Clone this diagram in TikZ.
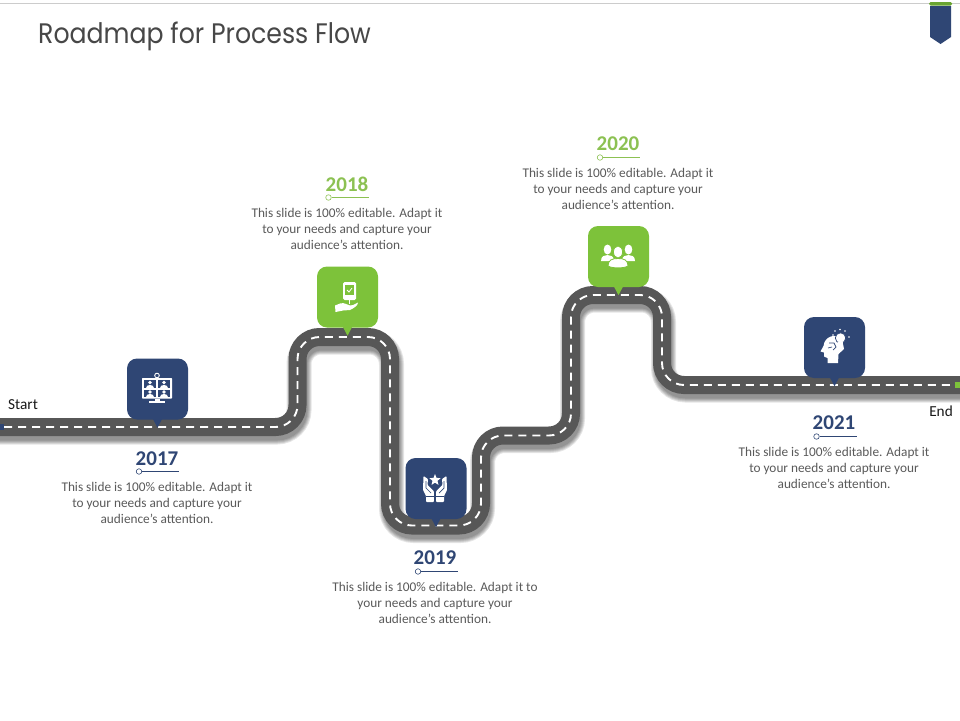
\documentclass[tikz,border=0pt]{standalone}
\usepackage{fontspec}
\setmainfont{Carlito}
\newfontfamily\titlefont{Poppins}
\definecolor{navy}{HTML}{2F4674}
\definecolor{leaf}{HTML}{7DC23A}
\definecolor{yrgreen}{HTML}{8CC152}
\definecolor{asphalt}{HTML}{575757}
\definecolor{bodytxt}{HTML}{5A5A5A}
\tikzset{
  x=1pt,y=-1pt,
  marker/.style={fill=#1,rounded corners=10pt,minimum width=61pt,minimum height=61pt,inner sep=0pt,draw=none},
  blurb/.style={align=center,text=bodytxt,font=\fontsize{13.3}{16}\selectfont,inner sep=0pt},
  yearlabel/.style={text=#1,font=\fontsize{21}{24}\selectfont\bfseries,inner sep=0pt},
  ruleline/.style={draw=#1,line width=0.9pt},
  ringdot/.style={draw=#1,fill=white,circle,minimum size=5.5pt,inner sep=0pt,line width=0.6pt},
  sidelabel/.style={text=black!90,font=\fontsize{15.3}{17}\selectfont,inner sep=0pt},
}
\newcommand{\roadline}{(-10,427) -- (297.5,427) -- (297.5,337) -- (390,337) -- (390,525.5) -- (481,525.5) -- (481,435.5) -- (571,435.5) -- (571,295) -- (662,295) -- (662,385) -- (970,385)}
\newcommand{\pin}[3]{\fill[#1] (#2.south)++(-5,-1.5) -- ++(5,#3) -- ++(5,-#3) -- cycle;}
\begin{document}
\begin{tikzpicture}
\path[use as bounding box,clip] (0,0) rectangle (960,720);
\fill[white] (0,0) rectangle (960,720);
% header
\coordinate (hl) at (0,3); \coordinate (hr) at (960,3);
\draw[black!20,line width=1pt] (hl) -- (hr);
\fill[navy] (930,6) -- (951,6) -- (951,37) -- (940.5,44) -- (930,37) -- cycle;
\fill[leaf!85!black,rounded corners=1.5pt] (929,2) rectangle (952,5.5);
\node[anchor=base west,text=black!72,font=\titlefont\fontsize{25.2}{30}\selectfont,inner sep=0pt] (title) at (38,43.5) {\scalebox{1}[1.12]{Roadmap for Process Flow}};
% road shadow
\begin{scope}[shift={(1.5,5)},rounded corners=22pt]
\foreach \w in {25,23,21,19,17} {\draw[black,opacity=0.1,line width=\w pt] \roadline;}
\end{scope}
% road
\draw[asphalt,line width=18pt,rounded corners=22pt] \roadline;
\draw[white,line width=1.9pt,rounded corners=22pt,dash pattern=on 8pt off 6pt] \roadline;
\fill[navy] (0,424) rectangle (4,430);
\fill[leaf] (955,382) rectangle (960,388);
% markers
\node[marker=navy] (m17) at (157.5,389) {}; \pin{navy}{m17}{9.5}
\node[marker=leaf] (m18) at (347.5,297) {}; \pin{leaf}{m18}{9.5}
\node[marker=navy] (m19) at (436,488.5) {}; \pin{navy}{m19}{9.5}
\node[marker=leaf] (m20) at (618.5,256.5) {}; \pin{leaf}{m20}{9.5}
\node[marker=navy] (m21) at (834.5,347.5) {}; \pin{navy}{m21}{9.5}
% icon 2017: monitor with four people
\draw[white,line width=0.9pt] (157,375.5) circle (2.3);
\fill[white,rounded corners=0.6pt] (142,378) rectangle (172,398.5);
\foreach \a/\b in {144/156,158/170} \foreach \c/\d in {380/388,389.5/397} {
  \fill[navy] (\a,\c) rectangle (\b,\d);
  \fill[white] ({(\a+\b)/2},{\c+2.5}) circle (1.9);
  \fill[white] ({(\a+\b)/2-4},\d) .. controls ({(\a+\b)/2-4},{\c+3.8}) and ({(\a+\b)/2+4},{\c+3.8}) .. ({(\a+\b)/2+4},\d) -- cycle;
}
\fill[white] (154.5,398.5) rectangle (159.5,401);
\fill[white] (149,401) rectangle (165,403);
% icon 2018: phone over hand
\fill[white,rounded corners=1.5pt] (343,282) rectangle (356,300);
\fill[leaf] (345,285) rectangle (354,295);
\draw[white,line width=0.8pt] (347,290) -- (349,292) -- (352,288);
\draw[white,line width=0.8pt] (349.5,300) -- (349.5,304);
\fill[white] (335,305.5) -- (340,303.5) .. controls (345,302) and (346,305) .. (350,305.5) -- (353,305) -- (358,302.5) .. controls (358,305.5) and (354,308) .. (350,310) -- (343,310.5) -- (335.5,312) -- cycle;
% icon 2019: hands with star
\fill[white] (435,474) -- (436.5,477.9) -- (440.7,478.1) -- (437.5,480.8) -- (438.5,484.9) -- (435,482.6) -- (431.5,484.9) -- (432.5,480.8) -- (429.3,478.1) -- (433.5,477.9) -- cycle;
\foreach \s/\o in {1/0,-1/870} {
\begin{scope}[shift={(\o,0)},xscale=\s]
\fill[white,rounded corners=0.8pt] (423.5,476) -- (428,479) -- (427.5,485) -- (433.8,491) -- (433.8,502) -- (426,502) -- (426,496) -- (423,490) -- cycle;
\draw[navy,line width=0.7pt] (426,496.5) -- (434,496.5);
\draw[navy,line width=0.7pt] (426,481) -- (426,488) -- (431,493);
\end{scope}}
% icon 2020: three people
\foreach \h in {607.5,628.5} {
  \fill[white] (\h,249.5) ellipse (3.8 and 5);
  \fill[white] ({\h-6.5},261) .. controls ({\h-6.5},256) and ({\h-3},255) .. (\h,255) .. controls ({\h+3},255) and ({\h+6.5},256) .. ({\h+6.5},261) -- cycle;
}
\fill[white,draw=leaf,line width=0.8pt] (618,252) ellipse (4.6 and 6);
\fill[white,draw=leaf,line width=0.8pt] (608,266) .. controls (608,260) and (612,258.5) .. (618,258.5) .. controls (624,258.5) and (628,260) .. (628,266) .. controls (624,268.5) and (612,268.5) .. (608,266) -- cycle;
% icon 2021: head with bulb
\fill[white] (827.5,363) -- (827.5,358) -- (824,356.5) -- (824,352.5) -- (820.5,351.5) -- (823.5,346) .. controls (824.5,336) and (836,333) .. (842,339) -- (844,349) -- (838.5,354) -- (838,363) -- cycle;
\draw[navy,line width=0.7pt] (829,343) -- (834,343) -- (836,347) -- (833,350);
\draw[navy,line width=0.7pt] (828,348) -- (832,347);
\fill[white,draw=navy,line width=0.7pt] (840.5,338) circle (5.2);
\fill[white] (838,342) rectangle (843,346);
\foreach \p/\q in {835/331,840/329.5,845/331,849/337,833/335} {\fill[white] (\p,\q) circle (0.8);}
% start / end
\node[sidelabel,anchor=west] (startlbl) at (8,405) {Start};
\node[sidelabel,anchor=east] (endlbl) at (953,411) {End};
% 2017
\node[yearlabel=navy] (y17) at (157,459) {2017};
\node[ringdot=navy] (d17) at (139,471.5) {};
\coordinate (e17) at (179,471.5);
\draw[ruleline=navy] (d17) -- (e17);
\node[blurb] (t17) at (157,503) {This slide is 100\% editable. Adapt it\\to your needs and capture your\\audience's attention.};
% 2018
\node[yearlabel=yrgreen] (y18) at (347,184.5) {2018};
\node[ringdot=yrgreen] (d18) at (328.5,197.5) {};
\coordinate (e18) at (369,197.5);
\draw[ruleline=yrgreen] (d18) -- (e18);
\node[blurb] (t18) at (347,229) {This slide is 100\% editable. Adapt it\\to your needs and capture your\\audience's attention.};
% 2019
\node[yearlabel=navy] (y19) at (435,558) {2019};
\node[ringdot=navy] (d19) at (418,571.5) {};
\coordinate (e19) at (458,571.5);
\draw[ruleline=navy] (d19) -- (e19);
\node[blurb] (t19) at (435,603) {This slide is 100\% editable. Adapt it to\\your needs and capture your\\audience's attention.};
% 2020
\node[yearlabel=yrgreen] (y20) at (618,143.5) {2020};
\node[ringdot=yrgreen] (d20) at (600,157.5) {};
\coordinate (e20) at (640,157.5);
\draw[ruleline=yrgreen] (d20) -- (e20);
\node[blurb] (t20) at (618,189) {This slide is 100\% editable. Adapt it\\to your needs and capture your\\audience's attention.};
% 2021
\node[yearlabel=navy] (y21) at (834,422.5) {2021};
\node[ringdot=navy] (d21) at (816.5,436.5) {};
\coordinate (e21) at (857,436.5);
\draw[ruleline=navy] (d21) -- (e21);
\node[blurb] (t21) at (834,468) {This slide is 100\% editable. Adapt it\\to your needs and capture your\\audience's attention.};
\end{tikzpicture}
\end{document}
